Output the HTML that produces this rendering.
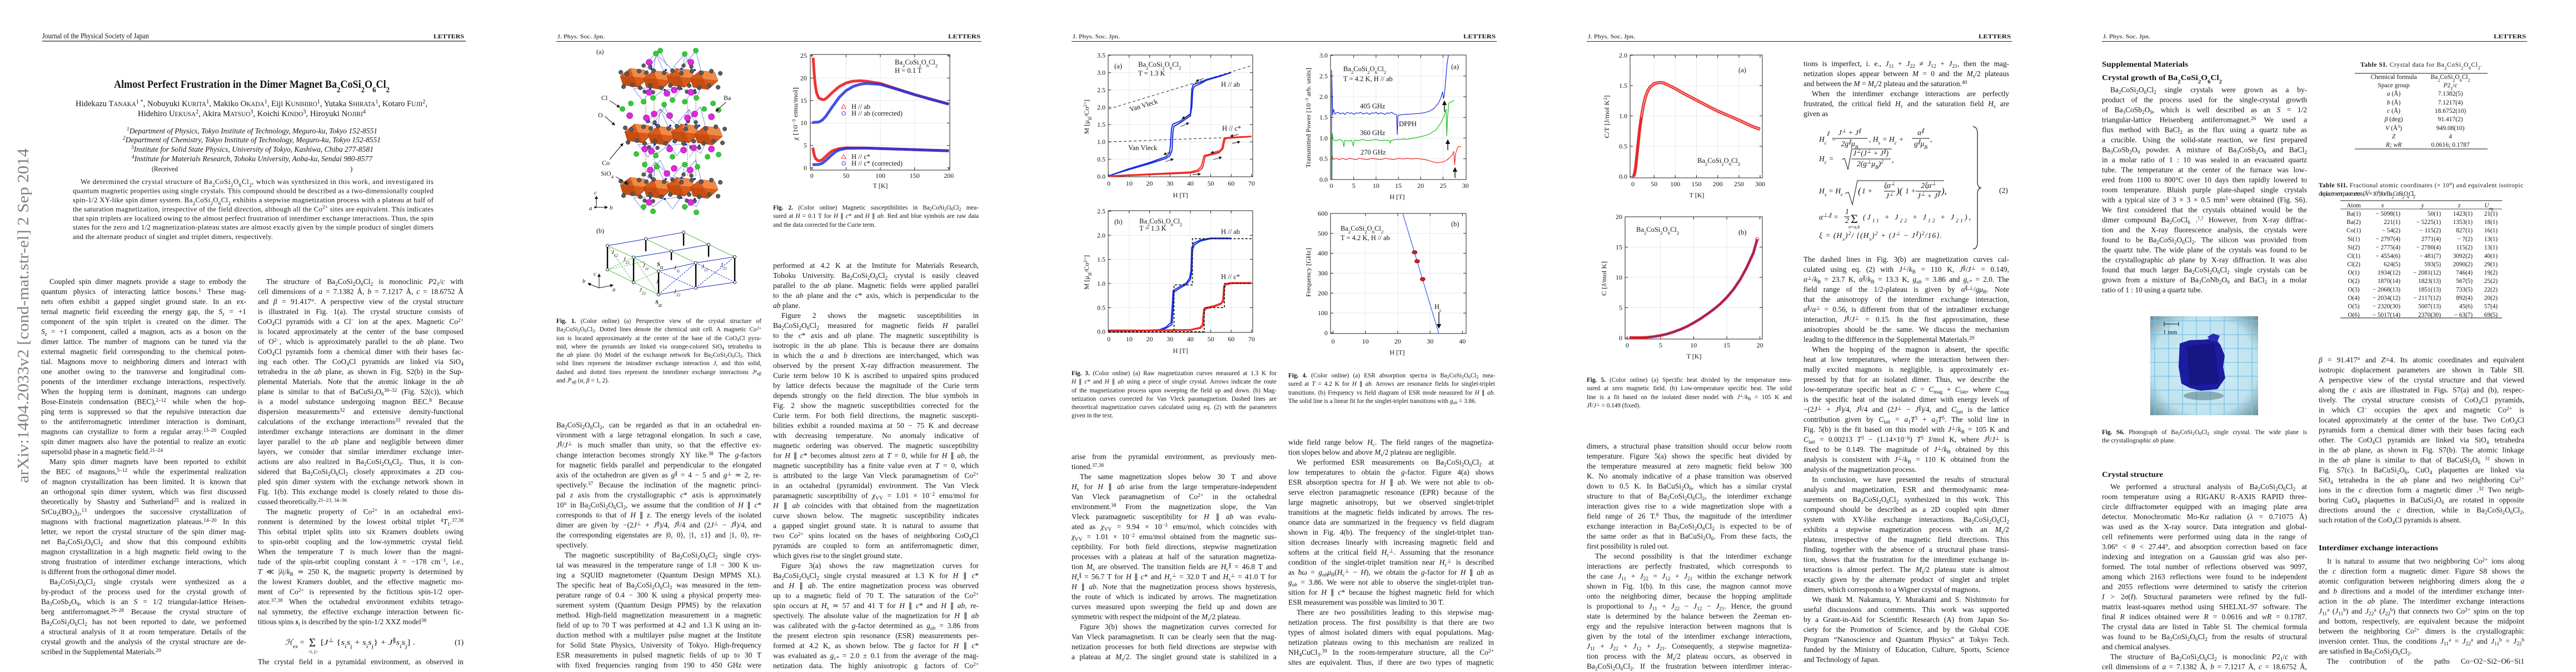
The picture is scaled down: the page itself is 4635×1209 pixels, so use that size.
<!DOCTYPE html>
<html><head><meta charset="utf-8"><style>
html,body{margin:0;padding:0}
body{width:4635px;height:1200px;position:relative;overflow:hidden;background:#fff;font-family:"Liberation Serif",serif;color:#141414}
.c{position:absolute;font-size:13.4px;line-height:18px}
.c div{height:18px;overflow:hidden;text-align:justify;text-align-last:justify;white-space:normal}
.c div.e{text-align-last:left}
.c div.i{text-indent:15px}
.cap{position:absolute;font-size:11.2px;line-height:15.3px}
.cap div{height:15.3px;overflow:hidden;text-align:justify;text-align-last:justify}
.cap div.e{text-align-last:left}
sub,sup{font-size:70%;line-height:0;position:relative;vertical-align:baseline}
sup{top:-0.42em}
sub{top:0.28em}
svg.main{position:absolute;left:0;top:0}
svg text{font-family:"Liberation Serif",serif;fill:#141414}
.s{baseline-shift:sub;font-size:70%}
.p{baseline-shift:super;font-size:70%}
.tk{font-size:12px}
.ax{fill:none;stroke:#222;stroke-width:1}
.gr{fill:none;stroke:#e0e0f0;stroke-width:.8}
.it{font-style:italic}
</style></head><body>
<svg class="main" width="4635" height="1200" viewBox="0 0 4635 1200">
<defs>
<marker id="ah" markerWidth="6" markerHeight="6" refX="5" refY="3" orient="auto"><path d="M0,0 L6,3 L0,6 z" fill="#111"/></marker>
<g id="pr"><polygon points="0,14 18,0 44,3 50,18 32,34 5,30" fill="#d85a1c" stroke="#8a3208" stroke-width=".6"/><polygon points="18,0 44,3 50,18 24,15" fill="#f08a44"/><polygon points="0,14 24,15 32,34 5,30" fill="#c04a10" opacity=".8"/></g>
<g id="ly">
<use href="#pr" x="1116" y="123"/><use href="#pr" x="1158" y="127"/><use href="#pr" x="1200" y="123"/><use href="#pr" x="1242" y="127"/>
<path d="M1180 96L1158 118L1176 128ZM1180 96L1195 130M1180 96L1210 126M1188 92L1163 130M1188 92L1200 118M1232 97L1212 120L1228 130ZM1232 97L1245 128M1252 92L1262 130M1252 92L1226 122M1158 183L1140 160L1170 158ZM1175 176L1196 160M1175 176L1152 156M1210 180L1196 162L1226 158ZM1232 183L1250 160M1253 176L1262 156M1253 176L1230 160" stroke="#3040c8" stroke-width=".6" fill="none"/>
<g fill="#5a5a5a" stroke="#222" stroke-width=".5">
<circle cx="1117" cy="130" r="3.8"/><circle cx="1128" cy="133" r="3.8"/><circle cx="1150" cy="128" r="3.8"/><circle cx="1163" cy="131" r="3.8"/><circle cx="1176" cy="127" r="3.8"/><circle cx="1195" cy="131" r="3.8"/><circle cx="1210" cy="127" r="3.8"/><circle cx="1226" cy="132" r="3.8"/><circle cx="1245" cy="128" r="3.8"/><circle cx="1262" cy="131" r="3.8"/><circle cx="1280" cy="128" r="3.8"/><circle cx="1296" cy="132" r="3.8"/>
<circle cx="1122" cy="156" r="3.8"/><circle cx="1138" cy="153" r="3.8"/><circle cx="1152" cy="158" r="3.8"/><circle cx="1170" cy="154" r="3.8"/><circle cx="1190" cy="158" r="3.8"/><circle cx="1206" cy="154" r="3.8"/><circle cx="1222" cy="158" r="3.8"/><circle cx="1240" cy="154" r="3.8"/><circle cx="1258" cy="158" r="3.8"/><circle cx="1276" cy="154" r="3.8"/><circle cx="1292" cy="157" r="3.8"/>
<circle cx="1158" cy="118" r="3.5"/><circle cx="1170" cy="120" r="3.5"/><circle cx="1230" cy="118" r="3.5"/><circle cx="1244" cy="120" r="3.5"/><circle cx="1160" cy="165" r="3.5"/><circle cx="1175" cy="166" r="3.5"/><circle cx="1236" cy="165" r="3.5"/><circle cx="1250" cy="166" r="3.5"/>
</g>
<g fill="#2030c0"><circle cx="1172" cy="124" r="2"/><circle cx="1198" cy="126" r="2"/><circle cx="1226" cy="124" r="2"/><circle cx="1250" cy="126" r="2"/><circle cx="1170" cy="160" r="2"/><circle cx="1196" cy="162" r="2"/><circle cx="1226" cy="160" r="2"/><circle cx="1250" cy="162" r="2"/></g>
</g>
</defs>

<!-- arXiv sidebar -->
<text transform="translate(51,869) rotate(-90)" font-size="28" textLength="602" lengthAdjust="spacingAndGlyphs" style="fill:#808080">arXiv:1404.2033v2  [cond-mat.str-el]  2 Sep 2014</text>

<!-- Headers -->
<text x="76" y="69" font-size="14" textLength="192" lengthAdjust="spacingAndGlyphs">Journal of the Physical Society of Japan</text>
<text x="780" y="69" font-size="11" font-weight="bold" textLength="55" lengthAdjust="spacingAndGlyphs">LETTERS</text>
<line x1="76" y1="74" x2="838" y2="74" stroke="#222" stroke-width="1.2"/>
<text x="1003" y="69" font-size="11" textLength="85" lengthAdjust="spacingAndGlyphs">J. Phys. Soc. Jpn.</text>
<text x="1706" y="69" font-size="11" font-weight="bold" textLength="58" lengthAdjust="spacingAndGlyphs">LETTERS</text>
<line x1="1001" y1="74.5" x2="1766" y2="74.5" stroke="#222" stroke-width="1"/>
<text x="1930" y="69" font-size="11" textLength="85" lengthAdjust="spacingAndGlyphs">J. Phys. Soc. Jpn.</text>
<text x="2633" y="69" font-size="11" font-weight="bold" textLength="58" lengthAdjust="spacingAndGlyphs">LETTERS</text>
<line x1="1928" y1="74.5" x2="2693" y2="74.5" stroke="#222" stroke-width="1"/>
<text x="2857" y="69" font-size="11" textLength="85" lengthAdjust="spacingAndGlyphs">J. Phys. Soc. Jpn.</text>
<text x="3560" y="69" font-size="11" font-weight="bold" textLength="58" lengthAdjust="spacingAndGlyphs">LETTERS</text>
<line x1="2855" y1="74.5" x2="3620" y2="74.5" stroke="#222" stroke-width="1"/>
<text x="3784" y="69" font-size="11" textLength="85" lengthAdjust="spacingAndGlyphs">J. Phys. Soc. Jpn.</text>
<text x="4487" y="69" font-size="11" font-weight="bold" textLength="58" lengthAdjust="spacingAndGlyphs">LETTERS</text>
<line x1="3782" y1="74.5" x2="4547" y2="74.5" stroke="#222" stroke-width="1"/>

<!-- Page 1 title block -->
<text x="205" y="158" font-size="19.5" font-weight="bold" textLength="496" lengthAdjust="spacingAndGlyphs">Almost Perfect Frustration in the Dimer Magnet Ba<tspan class="s">2</tspan>CoSi<tspan class="s">2</tspan>O<tspan class="s">6</tspan>Cl<tspan class="s">2</tspan></text>
<text x="136" y="191" font-size="15" textLength="633" lengthAdjust="spacingAndGlyphs">Hidekazu T<tspan font-size="11.5">ANAKA</tspan><tspan class="p">1 *</tspan>, Nobuyuki K<tspan font-size="11.5">URITA</tspan><tspan class="p">1</tspan>, Makiko O<tspan font-size="11.5">KADA</tspan><tspan class="p">1</tspan>, Eiji K<tspan font-size="11.5">UNIHIRO</tspan><tspan class="p">1</tspan>, Yutaka S<tspan font-size="11.5">HIRATA</tspan><tspan class="p">1</tspan>, Kotaro F<tspan font-size="11.5">UJII</tspan><tspan class="p">2</tspan>,</text>
<text x="248" y="209" font-size="15" textLength="410" lengthAdjust="spacingAndGlyphs">Hidehiro U<tspan font-size="11.5">EKUSA</tspan><tspan class="p">2</tspan>, Akira M<tspan font-size="11.5">ATSUO</tspan><tspan class="p">3</tspan>, Koichi K<tspan font-size="11.5">INDO</tspan><tspan class="p">3</tspan>, Hiroyuki N<tspan font-size="11.5">OJIRI</tspan><tspan class="p">4</tspan></text>
<g font-style="italic" font-size="13.5">
<text x="228" y="240" textLength="451" lengthAdjust="spacingAndGlyphs"><tspan class="p">1</tspan>Department of Physics, Tokyo Institute of Technology, Meguro-ku, Tokyo 152-8551</text>
<text x="221" y="256" textLength="464" lengthAdjust="spacingAndGlyphs"><tspan class="p">2</tspan>Department of Chemistry, Tokyo Institute of Technology, Meguro-ku, Tokyo 152-8551</text>
<text x="236" y="273" textLength="436" lengthAdjust="spacingAndGlyphs"><tspan class="p">3</tspan>Institute for Solid State Physics, University of Tokyo, Kashiwa, Chiba 277-8581</text>
<text x="237" y="290" textLength="433" lengthAdjust="spacingAndGlyphs"><tspan class="p">4</tspan>Institute for Materials Research, Tohoku University, Aoba-ku, Sendai 980-8577</text>
</g>
<text x="273" y="308" font-size="13" textLength="47" lengthAdjust="spacingAndGlyphs">(Received</text>
<text x="630" y="308" font-size="13">)</text>
<g font-size="12.8">
<text x="145" y="331" textLength="635">We determined the crystal structure of Ba<tspan class="s">2</tspan>CoSi<tspan class="s">2</tspan>O<tspan class="s">6</tspan>Cl<tspan class="s">2</tspan>, which was synthesized in this work, and investigated its</text>
<text x="131" y="347.5" textLength="649">quantum magnetic properties using single crystals. This compound should be described as a two-dimensionally coupled</text>
<text x="131" y="364" textLength="649">spin-1/2 XY-like spin dimer system. Ba<tspan class="s">2</tspan>CoSi<tspan class="s">2</tspan>O<tspan class="s">6</tspan>Cl<tspan class="s">2</tspan> exhibits a stepwise magnetization process with a plateau at half of</text>
<text x="131" y="380.5" textLength="649">the saturation magnetization, irrespective of the field direction, although all the Co<tspan class="p">2+</tspan> sites are equivalent. This indicates</text>
<text x="131" y="397" textLength="649">that spin triplets are localized owing to the almost perfect frustration of interdimer exchange interactions. Thus, the spin</text>
<text x="131" y="413" textLength="649">states for the zero and 1/2 magnetization-plateau states are almost exactly given by the simple product of singlet dimers</text>
<text x="131" y="430" textLength="360">and the alternate product of singlet and triplet dimers, respectively.</text>
</g>
<!-- eq (1) -->
<text x="513" y="1160" font-size="14"><tspan font-style="italic">ℋ</tspan><tspan class="s">ex</tspan> =</text>
<text x="556" y="1163" font-size="21">Σ</text>
<text x="554" y="1175" font-size="8.5">&lt;i, j&gt;</text>
<text x="577" y="1160" font-size="14" textLength="170" lengthAdjust="spacingAndGlyphs">[<tspan font-style="italic">J</tspan><tspan class="p">⊥</tspan> {<tspan font-style="italic">s</tspan><tspan class="s">i</tspan><tspan font-style="italic">s</tspan><tspan class="s">j</tspan> + <tspan font-style="italic">s</tspan><tspan class="s">i</tspan><tspan font-style="italic">s</tspan><tspan class="s">j</tspan>} + <tspan font-style="italic">J</tspan><tspan class="p">∥</tspan><tspan font-style="italic">s</tspan><tspan class="s">i</tspan><tspan font-style="italic">s</tspan><tspan class="s">j</tspan>] .</text>
<text x="818" y="1160" font-size="14">(1)</text>

<!-- Fig 1 -->
<text x="1073" y="97" font-size="12">(a)</text>
<line x1="1162" y1="178" x2="1162" y2="318" stroke="#444" stroke-dasharray="1.5 2"/>
<line x1="1177" y1="178" x2="1177" y2="318" stroke="#444" stroke-dasharray="1.5 2"/>
<line x1="1237" y1="178" x2="1237" y2="318" stroke="#444" stroke-dasharray="1.5 2"/>
<line x1="1252" y1="178" x2="1252" y2="318" stroke="#444" stroke-dasharray="1.5 2"/>
<use href="#ly"/>
<use href="#ly" x="8" y="100"/>
<use href="#ly" y="196"/>
<g fill="#2bd12b" stroke="#107010" stroke-width=".6">
<circle cx="1180" cy="96" r="4.5"/><circle cx="1188" cy="91" r="4.5"/><circle cx="1232" cy="97" r="4.5"/><circle cx="1252" cy="91" r="4.5"/><circle cx="1158" cy="183" r="4.5"/><circle cx="1175" cy="176" r="4.5"/><circle cx="1210" cy="180" r="4.5"/><circle cx="1232" cy="183" r="4.5"/><circle cx="1253" cy="176" r="4.5"/>
<circle cx="1120" cy="196" r="4.5"/><circle cx="1135" cy="186" r="4.5"/><circle cx="1195" cy="188" r="4.5"/><circle cx="1267" cy="196" r="4.5"/><circle cx="1283" cy="186" r="4.5"/><circle cx="1293" cy="198" r="4.5"/>
<circle cx="1145" cy="277" r="4.5"/><circle cx="1180" cy="280" r="4.5"/><circle cx="1210" cy="282" r="4.5"/><circle cx="1273" cy="282" r="4.5"/><circle cx="1293" cy="278" r="4.5"/>
<circle cx="1160" cy="296" r="4.5"/><circle cx="1182" cy="300" r="4.5"/><circle cx="1232" cy="296" r="4.5"/><circle cx="1255" cy="300" r="4.5"/><circle cx="1158" cy="372" r="4.5"/><circle cx="1175" cy="380" r="4.5"/><circle cx="1232" cy="372" r="4.5"/><circle cx="1253" cy="382" r="4.5"/>
</g>
<g fill="#e028e0" stroke="#801080" stroke-width=".6">
<circle cx="1168" cy="112" r="5.5"/><circle cx="1243" cy="112" r="5.5"/><circle cx="1168" cy="166" r="5.5"/><circle cx="1200" cy="168" r="5.5"/><circle cx="1213" cy="162" r="5.5"/><circle cx="1243" cy="166" r="5.5"/>
<circle cx="1133" cy="208" r="5.5"/><circle cx="1163" cy="212" r="5.5"/><circle cx="1177" cy="205" r="5.5"/><circle cx="1205" cy="208" r="5.5"/><circle cx="1237" cy="212" r="5.5"/><circle cx="1250" cy="205" r="5.5"/><circle cx="1280" cy="210" r="5.5"/>
<circle cx="1160" cy="268" r="5.5"/><circle cx="1172" cy="272" r="5.5"/><circle cx="1205" cy="268" r="5.5"/><circle cx="1230" cy="270" r="5.5"/><circle cx="1248" cy="266" r="5.5"/><circle cx="1280" cy="268" r="5.5"/>
<circle cx="1170" cy="306" r="5.5"/><circle cx="1242" cy="306" r="5.5"/><circle cx="1200" cy="312" r="5.5"/><circle cx="1213" cy="303" r="5.5"/><circle cx="1168" cy="364" r="5.5"/><circle cx="1243" cy="364" r="5.5"/>
</g>
<g font-size="12">
<text x="1082" y="180">Cl</text><text x="1076" y="211">O</text><text x="1083" y="297">Co</text><text x="1081" y="316">SiO<tspan class="s">4</tspan></text><text x="1302" y="180">Ba</text>
</g>
<g stroke="#111" stroke-width="1" marker-end="url(#ah)">
<line x1="1097" y1="181" x2="1115" y2="193"/><line x1="1088" y1="209" x2="1106" y2="225"/><line x1="1097" y1="287" x2="1121" y2="258"/><line x1="1108" y1="318" x2="1129" y2="331"/><line x1="1306" y1="184" x2="1288" y2="200"/>
<line x1="1073" y1="373" x2="1073" y2="353"/><line x1="1073" y1="373" x2="1093" y2="373"/>
</g>
<circle cx="1071" cy="373" r="1.8" fill="#111"/>
<g font-size="11" font-style="italic"><text x="1069" y="350">c</text><text x="1060" y="378">a</text><text x="1097" y="377">b</text></g>
<text x="1073" y="419" font-size="12">(b)</text>
<g fill="none" stroke-width="1.1">
<path d="M1093 442L1162 430L1230 418M1140 463L1208 452L1275 440M1185 488L1252 473L1322 462M1185 530L1252 518L1322 508" stroke="#2a32c8"/>
<path d="M1093 442L1140 463L1185 488M1230 418L1275 440L1322 462M1162 430L1208 452L1252 473M1093 485L1140 508L1185 530" stroke="#5fbf5f"/>
<path d="M1093 485L1140 463M1093 442L1140 508M1140 508L1185 488M1140 463L1185 530M1093 485L1162 470" stroke="#5fbf5f" stroke-dasharray="3 2"/>
<path d="M1185 488L1252 518M1185 530L1252 473M1252 473L1322 508M1252 518L1322 462" stroke="#2a32c8" stroke-dasharray="3 2"/>
</g>
<path d="M1093 442V485M1140 463V508M1185 488V530M1252 473V518M1322 462V508M1162 430V452M1230 418V442M1275 440V462M1208 452V468" stroke="#000" stroke-width="2.4"/>
<g fill="#fff" stroke="#000" stroke-width=".8">
<circle cx="1093" cy="442" r="2.6"/><circle cx="1093" cy="485" r="2.6"/><circle cx="1140" cy="463" r="2.6"/><circle cx="1140" cy="508" r="2.6"/><circle cx="1185" cy="488" r="2.6"/><circle cx="1185" cy="530" r="2.6"/><circle cx="1252" cy="473" r="2.6"/><circle cx="1252" cy="518" r="2.6"/><circle cx="1322" cy="462" r="2.6"/><circle cx="1322" cy="508" r="2.6"/><circle cx="1162" cy="430" r="2.6"/><circle cx="1230" cy="418" r="2.6"/><circle cx="1275" cy="440" r="2.6"/><circle cx="1208" cy="452" r="2.6"/>
</g>
<g font-size="10.5" font-style="italic">
<text x="1100" y="457">J<tspan class="s">12</tspan></text><text x="1121" y="470">J<tspan class="s">21</tspan></text><text x="1156" y="481">J<tspan class="s">11</tspan></text><text x="1212" y="485">J<tspan class="s">11</tspan></text><text x="1262" y="483">J<tspan class="s">12</tspan></text><text x="1296" y="480">J<tspan class="s">21</tspan></text><text x="1180" y="510">J</text><text x="1150" y="525">J<tspan class="s">22</tspan></text><text x="1212" y="528">J<tspan class="s">22</tspan></text>
<text x="1182" y="479" font-weight="bold">S<tspan class="s">i1</tspan></text><text x="1179" y="547" font-weight="bold">S<tspan class="s">i2</tspan></text>
<text x="1068" y="496">c</text><text x="1048" y="509">b</text><text x="1102" y="524">a</text>
</g>
<g stroke="#111" stroke-width="1" marker-end="url(#ah)"><line x1="1078" y1="518" x2="1078" y2="493"/><line x1="1078" y1="518" x2="1058" y2="510"/><line x1="1078" y1="518" x2="1103" y2="513"/></g>

<!-- Fig 2 -->
<path class="gr" d="M1458 261.6H1709M1458 221.2H1709M1458 180.8H1709M1458 140.4H1709M1522.4 98V306M1584 98V306M1645.7 98V306"/>
<rect x="1458" y="98" width="251" height="208" class="ax"/>
<path class="ax" d="M1458 302h5M1458 261.6h5M1458 221.2h5M1458 180.8h5M1458 140.4h5M1458 100h5M1709 302h-5M1709 261.6h-5M1709 221.2h-5M1709 180.8h-5M1709 140.4h-5M1709 100h-5M1460.7 306v-5M1522.4 306v-5M1584 306v-5M1645.7 306v-5M1707.3 306v-5M1460.7 98v5M1522.4 98v5M1584 98v5M1645.7 98v5M1707.3 98v5"/>
<polyline fill="none" stroke="#ee3535" stroke-width="5" stroke-linejoin="round" points="1463.2,104 1464.4,124.2 1465.6,140.4 1466.9,152.5 1469.3,167.1 1473,176 1479.2,179.2 1482.9,179.2 1487.8,176 1497.7,166.3 1510,155.8 1522.4,149.3 1534.7,146.1 1547,145.2 1559.3,146.1 1584,150.1 1608.7,158.2 1645.7,170.3 1676.5,179.2 1707.3,187.3"/>
<polyline fill="none" stroke="#ee3535" stroke-width="5" stroke-linejoin="round" points="1462.5,265.6 1463.8,272.9 1465.6,281 1468.1,285.8 1471.8,289.1 1475.5,289.1 1479.2,287.5 1485.4,281.8 1491.5,276.1 1497.7,271.3 1510,267.3 1522.4,266 1559.3,266.4 1584,267.3 1645.7,269.3 1707.3,271.3"/>
<polyline fill="none" stroke="#2233dd" stroke-opacity=".85" stroke-width="5" stroke-linejoin="round" points="1461.3,220.4 1473,219.6 1479.2,216.4 1485.4,209.9 1491.5,201 1497.7,192.1 1510,175.1 1522.4,163 1534.7,155.8 1547,151.7 1559.3,150.1 1584,151.7 1608.7,159 1645.7,170.3 1707.3,187.3"/>
<polyline fill="none" stroke="#2233dd" stroke-opacity=".85" stroke-width="5" stroke-linejoin="round" points="1461.9,296.3 1473,295.9 1479.2,293.9 1485.4,289.1 1491.5,283.4 1497.7,277.8 1503.9,272.9 1510,269.7 1522.4,266.9 1559.3,266.4 1584,267.3 1645.7,269.3 1707.3,271.3"/>
<g class="tk" text-anchor="end"><text x="1452" y="306">0</text><text x="1452" y="265.6">5</text><text x="1452" y="225.2">10</text><text x="1452" y="184.8">15</text><text x="1452" y="144.4">20</text><text x="1452" y="104">25</text></g>
<g class="tk" text-anchor="middle"><text x="1460.7" y="320">0</text><text x="1522.4" y="320">50</text><text x="1584" y="320">100</text><text x="1645.7" y="320">150</text><text x="1707.3" y="320">200</text><text x="1584" y="338">T [K]</text></g>
<text transform="translate(1435,205) rotate(-90)" text-anchor="middle" font-size="12" textLength="96" lengthAdjust="spacingAndGlyphs">χ [10<tspan class="p">−3</tspan> emu/mol]</text>
<g font-size="12.5"><text x="1610" y="116">Ba<tspan class="s">2</tspan>CoSi<tspan class="s">2</tspan>O<tspan class="s">6</tspan>Cl<tspan class="s">2</tspan></text><text x="1610" y="131">H = 0.1 T</text>
<text x="1532" y="196">H // ab</text><text x="1532" y="208">H // ab (corrected)</text><text x="1532" y="286">H // c*</text><text x="1532" y="298">H // c* (corrected)</text></g>
<g fill="none" stroke-width="1"><polygon points="1514,195 1518,188 1522,195" stroke="#e33"/><circle cx="1518" cy="204" r="3.3" stroke="#33d"/><polygon points="1514,285 1518,278 1522,285" stroke="#e33"/><circle cx="1518" cy="294" r="3.3" stroke="#33d"/></g>

<!-- Fig 3 (a) -->
<path class="gr" d="M1994 286.4H2254M1994 255.2H2254M1994 224.1H2254M1994 192.9H2254M1994 161.8H2254M1994 130.7H2254M2031.7 99V318M2068.4 99V318M2105.1 99V318M2141.8 99V318M2178.5 99V318M2215.2 99V318"/>
<rect x="1994" y="99" width="260" height="219" class="ax"/>
<path class="ax" d="M1994 317.5h5M1994 286.4h5M1994 255.2h5M1994 224.1h5M1994 192.9h5M1994 161.8h5M1994 130.7h5M1994 99.5h5M2254 286.4h-5M2254 255.2h-5M2254 224.1h-5M2254 192.9h-5M2254 161.8h-5M2254 130.7h-5M1995 318v-5M2031.7 318v-5M2068.4 318v-5M2105.1 318v-5M2141.8 318v-5M2178.5 318v-5M2215.2 318v-5M2251.9 318v-5M2031.7 99v5M2068.4 99v5M2105.1 99v5M2141.8 99v5M2178.5 99v5M2215.2 99v5"/>
<path d="M1995 196L2252 118.1M1995 255.2L2252 245.9" stroke="#222" stroke-width="1" stroke-dasharray="5 4" fill="none"/>
<polyline fill="none" stroke="#1a2be0" stroke-width="2" points="1995,316.3 2031.7,305 2068.4,294.5 2097.8,285.1 2105.1,280.1 2108.8,270.8 2110.6,236.5 2112.4,227.2 2123.5,221 2141.8,208.5 2144.4,192.9 2146.2,161.8 2149.1,155.5 2160.2,150.5 2171.2,144.3 2196.9,136.8 2215.2,130.6"/>
<polyline fill="none" stroke="#1a2be0" stroke-width="2" points="1995,316.3 2031.7,303.5 2068.4,292.5 2097.8,282 2104,276 2106,262 2107.8,232 2110,223.5 2123.5,218 2141.8,205 2143,190 2144.5,160 2147,152 2160.2,148 2171.2,143 2196.9,136 2215.2,130.6"/>
<polyline fill="none" stroke="#ee2a22" stroke-width="2" points="1995,317.5 2068.4,314.4 2141.8,311.3 2156.5,308.2 2163.8,301.9 2166.8,289.5 2168.6,281.4 2178.5,278.9 2193.2,275.1 2200.5,267.7 2202.4,258.3 2204.2,250.8 2207.9,249 2233.6,247.1 2252,245.9"/>
<polyline fill="none" stroke="#ee2a22" stroke-width="2" points="1995,316.5 2068.4,313 2141.8,309.5 2155,306 2161.5,299 2164.5,287.5 2166.6,280 2178.5,276.9 2193.2,273 2199,265.7 2200.6,256.3 2202.4,249 2207.9,247.5 2233.6,246 2252,245.2"/>
<g stroke="#111" stroke-width=".9" marker-end="url(#ah)">
<line x1="2166" y1="141" x2="2152" y2="146"/><line x1="2124" y1="228" x2="2139" y2="221"/><line x1="2141" y1="207" x2="2127" y2="213"/><line x1="2106" y1="273" x2="2094" y2="278"/><line x1="2097" y1="291" x2="2111" y2="286"/><line x1="2193" y1="271" x2="2179" y2="275"/><line x1="2183" y1="287" x2="2198" y2="283"/><line x1="2228" y1="242" x2="2214" y2="245"/><line x1="2217" y1="258" x2="2231" y2="255"/><line x1="2146" y1="314" x2="2160" y2="313"/>
</g>
<g class="tk" text-anchor="end"><text x="1989" y="321.5">0.0</text><text x="1989" y="290.4">0.5</text><text x="1989" y="259.2">1.0</text><text x="1989" y="228.1">1.5</text><text x="1989" y="196.9">2.0</text><text x="1989" y="165.8">2.5</text><text x="1989" y="134.7">3.0</text><text x="1989" y="103.5">3.5</text></g>
<g class="tk" text-anchor="middle"><text x="1995" y="334">0</text><text x="2031.7" y="334">10</text><text x="2068.4" y="334">20</text><text x="2105.1" y="334">30</text><text x="2141.8" y="334">40</text><text x="2178.5" y="334">50</text><text x="2215.2" y="334">60</text><text x="2251.9" y="334">70</text><text x="2124" y="355">H [T]</text></g>
<text transform="translate(1959,210) rotate(-90)" text-anchor="middle" font-size="12" textLength="62" lengthAdjust="spacingAndGlyphs">M [μ<tspan class="s">B</tspan>/Co<tspan class="p">2+</tspan>]</text>
<g font-size="12.5"><text x="2005" y="123">(a)</text><text x="2048" y="120">Ba<tspan class="s">2</tspan>CoSi<tspan class="s">2</tspan>O<tspan class="s">6</tspan>Cl<tspan class="s">2</tspan></text><text x="2048" y="136">T = 1.3 K</text><text x="2197" y="156">H // ab</text><text x="2199" y="235">H // c*</text>
<text transform="translate(2034,201) rotate(-17)">Van Vleck</text><text x="2030" y="270">Van Vleck</text></g>

<!-- Fig 3 (b) -->
<path class="gr" d="M1994 553.4H2254M1994 510H2254M1994 466.6H2254M1994 423.3H2254M2031.7 379V598M2068.4 379V598M2105.1 379V598M2141.8 379V598M2178.5 379V598M2215.2 379V598"/>
<rect x="1994" y="379" width="260" height="219" class="ax"/>
<path class="ax" d="M1994 596.7h5M1994 553.4h5M1994 510h5M1994 466.6h5M1994 423.3h5M1994 380h5M2254 553.4h-5M2254 510h-5M2254 466.6h-5M2254 423.3h-5M1995 598v-5M2031.7 598v-5M2068.4 598v-5M2105.1 598v-5M2141.8 598v-5M2178.5 598v-5M2215.2 598v-5M2251.9 598v-5M2031.7 379v5M2068.4 379v5M2105.1 379v5M2141.8 379v5M2178.5 379v5M2215.2 379v5"/>
<polyline fill="none" stroke="#1a2be0" stroke-width="2" points="1995,595 2068.4,595 2086.8,594.1 2097.8,590.6 2105.1,586.3 2108.8,583.7 2111,553.4 2112.4,525.6 2119.8,520.4 2134.5,511.7 2141.8,503.1 2144.4,488.3 2145.8,449.3 2149.1,440.6 2160.2,433.7 2178.5,429.4 2215.2,429.4"/>
<polyline fill="none" stroke="#1a2be0" stroke-width="2" points="1995,594 2068.4,594 2086.8,593 2097.8,588.6 2103.5,583.3 2107,580.7 2109.2,550.4 2110.8,522.6 2119.8,517.4 2134.5,509 2140.5,500.1 2143,485.3 2144.2,446.3 2147.5,437.6 2160.2,431.7 2178.5,428.4 2215.2,428.4"/>
<polyline fill="none" stroke="#ee2a22" stroke-width="2" points="1995,595.8 2141.8,594.1 2160.2,590.6 2164.9,586.3 2167.1,560.3 2169.3,555.9 2185.8,551.6 2196.9,547.3 2201.6,542.1 2203.5,516.9 2206,512.6 2215.2,510 2252,510"/>
<polyline fill="none" stroke="#ee2a22" stroke-width="2" points="1995,594.8 2141.8,593 2158.6,589.2 2163.3,584.3 2165.5,558.3 2167.7,553.9 2185.8,549.6 2196.9,545.3 2200,540.1 2201.9,514.9 2204.4,510.6 2215.2,508.5 2252,508.5"/>
<path d="M1995 596.7H2112.4V512.6H2145.5V429.4H2252M1995 596.7H2166.8V553.4H2203.1V510H2252" stroke="#111" stroke-width="1.6" stroke-dasharray="4 3" fill="none"/>
<g class="tk" text-anchor="end"><text x="1989" y="600.7">0.0</text><text x="1989" y="557.4">0.5</text><text x="1989" y="514">1.0</text><text x="1989" y="470.6">1.5</text><text x="1989" y="427.3">2.0</text><text x="1989" y="384">2.5</text></g>
<g class="tk" text-anchor="middle"><text x="1995" y="614">0</text><text x="2031.7" y="614">10</text><text x="2068.4" y="614">20</text><text x="2105.1" y="614">30</text><text x="2141.8" y="614">40</text><text x="2178.5" y="614">50</text><text x="2215.2" y="614">60</text><text x="2251.9" y="614">70</text><text x="2124" y="635">H [T]</text></g>
<text transform="translate(1959,490) rotate(-90)" text-anchor="middle" font-size="12" textLength="62" lengthAdjust="spacingAndGlyphs">M [μ<tspan class="s">B</tspan>/Co<tspan class="p">2+</tspan>]</text>
<g font-size="12.5"><text x="2005" y="403">(b)</text><text x="2050" y="402">Ba<tspan class="s">2</tspan>CoSi<tspan class="s">2</tspan>O<tspan class="s">6</tspan>Cl<tspan class="s">2</tspan></text><text x="2050" y="415">T = 1.3 K</text><text x="2197" y="421">H // ab</text><text x="2197" y="502">H // c*</text></g>

<!-- Fig 4 (a) -->
<path class="gr" d="M2394 285.6H2638M2394 248.4H2638M2394 211.2H2638M2394 174H2638M2394 136.8H2638M2435.7 99V323M2475.9 99V323M2516.1 99V323M2556.3 99V323M2596.5 99V323"/>
<rect x="2394" y="99" width="244" height="224" class="ax"/>
<path class="ax" d="M2394 322.8h5M2394 285.6h5M2394 248.4h5M2394 211.2h5M2394 174h5M2394 136.8h5M2394 99.6h5M2638 285.6h-5M2638 248.4h-5M2638 211.2h-5M2638 174h-5M2638 136.8h-5M2435.7 323v-5M2475.9 323v-5M2516.1 323v-5M2556.3 323v-5M2596.5 323v-5M2435.7 99v5M2475.9 99v5M2516.1 99v5M2556.3 99v5M2596.5 99v5"/>
<polyline fill="none" stroke="#ee2a22" stroke-width="1.2" points="2396.5,322 2396.5,278 2399,287 2404,285 2410,287 2416,285 2422,287 2428,285 2434,286 2440,287 2446,285 2452,286 2460,287 2468,285 2476,286 2484,287 2492,285 2500,286 2508,287 2516,285 2524,286 2532,285 2540,286 2548,285 2556,286 2564,287 2572.4,289.3 2584.4,293 2596.5,291.6 2604.5,287.1 2612.6,279.6 2615.8,272.2 2617.4,296.8 2619,276.7 2622.2,267 2624.6,263.3 2628.7,264"/>
<polyline fill="none" stroke="#16c016" stroke-width="1.2" points="2396.5,322 2397,240 2399,252 2404,253 2410,251 2416,253 2418,264 2420,252 2426,254 2432,252 2435,263 2437,252 2444,253 2452,251 2460,253 2468,252 2476,251 2484,253 2492,252 2500,253 2501.6,257 2503,253 2510,251 2518,251 2526,250 2532,250.6 2540,249 2556,246 2564,244 2572,241 2584,233.5 2592,222 2599,207.5 2602,196 2603.3,244.7 2604.5,211 2607,185 2612.6,183 2616.6,180"/>
<polyline fill="none" stroke="#1a2bd8" stroke-width="1.2" points="2396,322 2396,126 2397.9,207.5 2399.5,196.3 2401.9,205.2 2404,203 2408,202 2412,205 2416,203 2420,206 2424,202 2428,204 2432,203 2436,206 2440,203 2444,204 2448,202 2452,205 2456,204 2460,203 2464,206 2468,203 2472,204 2476,202 2480,205 2484,203 2488,204 2492,206 2496,203 2500,204 2504,202 2508,205 2512,206 2512.9,207.5 2514.1,242.4 2515.3,207.5 2524.1,206 2540.2,205.2 2556.3,203.8 2564.3,202.3 2572.4,200 2580.4,194.8 2588.5,185.2 2593.3,174 2595.7,165.1 2597.3,177.7 2598.9,170.3 2601.3,144.2 2603.7,114.5 2606.1,99.6"/>
<g stroke="#111" stroke-width="1.4" marker-end="url(#ah)"><line x1="2599" y1="201" x2="2599" y2="182"/><line x1="2605" y1="270" x2="2605" y2="252"/><line x1="2618" y1="320" x2="2618" y2="302"/></g>
<g class="tk" text-anchor="end"><text x="2389" y="326.8">0.0</text><text x="2389" y="289.6">0.5</text><text x="2389" y="252.4">1.0</text><text x="2389" y="215.2">1.5</text><text x="2389" y="178">2.0</text><text x="2389" y="140.8">2.5</text><text x="2389" y="103.6">3.0</text></g>
<g class="tk" text-anchor="middle"><text x="2395.5" y="338">0</text><text x="2435.7" y="338">5</text><text x="2475.9" y="338">10</text><text x="2516.1" y="338">15</text><text x="2556.3" y="338">20</text><text x="2596.5" y="338">25</text><text x="2636.7" y="338">30</text><text x="2514" y="358">H [T]</text></g>
<text transform="translate(2358,212) rotate(-90)" text-anchor="middle" font-size="12" textLength="180" lengthAdjust="spacingAndGlyphs">Transmitted Power [10<tspan class="p">−3</tspan> arb. units]</text>
<g font-size="12.5"><text x="2417" y="128">Ba<tspan class="s">2</tspan>CoSi<tspan class="s">2</tspan>O<tspan class="s">6</tspan>Cl<tspan class="s">2</tspan></text><text x="2417" y="146">T = 4.2 K, H // ab</text><text x="2611" y="124">(a)</text>
<text x="2447" y="195">405 GHz</text><text x="2517" y="227">DPPH</text><text x="2447" y="243">360 GHz</text><text x="2448" y="278">270 GHz</text></g>

<!-- Fig 4 (b) -->
<path class="gr" d="M2394 563.2H2638M2394 527.3H2638M2394 491.5H2638M2394 455.7H2638M2394 419.9H2638M2456.8 384V600M2515 384V600M2573.2 384V600"/>
<rect x="2394" y="384" width="244" height="216" class="ax"/>
<path class="ax" d="M2394 599h5M2394 563.2h5M2394 527.3h5M2394 491.5h5M2394 455.7h5M2394 419.9h5M2394 384h5M2638 563.2h-5M2638 527.3h-5M2638 491.5h-5M2638 455.7h-5M2638 419.9h-5M2398.6 600v-5M2456.8 600v-5M2515 600v-5M2573.2 600v-5M2631.4 600v-5M2456.8 384v5M2515 384v5M2573.2 384v5M2631.4 384v5"/>
<line x1="2524" y1="384" x2="2588.5" y2="599" stroke="#3a6ae0" stroke-width="1.3"/>
<g fill="#d21a2a" stroke="#7a0a10" stroke-width=".7"><ellipse cx="2545.3" cy="453.9" rx="4.5" ry="3.3"/><ellipse cx="2549.9" cy="470" rx="4.5" ry="3.3"/><ellipse cx="2559.8" cy="502.3" rx="4.5" ry="3.3"/></g>
<line x1="2589" y1="561" x2="2589" y2="590" stroke="#111" stroke-width="1.4" marker-end="url(#ah)"/>
<g class="tk" text-anchor="end"><text x="2389" y="603">0</text><text x="2389" y="567.2">100</text><text x="2389" y="531.3">200</text><text x="2389" y="495.5">300</text><text x="2389" y="459.7">400</text><text x="2389" y="423.9">500</text><text x="2389" y="388">600</text></g>
<g class="tk" text-anchor="middle"><text x="2398.6" y="618">0</text><text x="2456.8" y="618">10</text><text x="2515" y="618">20</text><text x="2573.2" y="618">30</text><text x="2631.4" y="618">40</text><text x="2514" y="638">H [T]</text></g>
<text transform="translate(2358,490) rotate(-90)" text-anchor="middle" font-size="12" textLength="88" lengthAdjust="spacingAndGlyphs">Frequency [GHz]</text>
<g font-size="12.5"><text x="2412" y="415">Ba<tspan class="s">2</tspan>CoSi<tspan class="s">2</tspan>O<tspan class="s">6</tspan>Cl<tspan class="s">2</tspan></text><text x="2412" y="432">T = 4.2 K, H // ab</text><text x="2611" y="407">(b)</text><text x="2581" y="556">H<tspan class="s">c</tspan></text></g>

<!-- Fig 5 (a) -->
<path class="gr" d="M2933 263H3171M2933 208.5H3171M2933 154H3171M2976.2 99V320M3014.3 99V320M3052.5 99V320M3090.7 99V320M3128.9 99V320"/>
<rect x="2933" y="99" width="238" height="221" class="ax"/>
<path class="ax" d="M2933 317.5h5M2933 263h5M2933 208.5h5M2933 154h5M2933 99.5h5M3171 263h-5M3171 208.5h-5M3171 154h-5M2938 320v-5M2976.2 320v-5M3014.3 320v-5M3052.5 320v-5M3090.7 320v-5M3128.9 320v-5M3167 320v-5M2976.2 99v5M3014.3 99v5M3052.5 99v5M3090.7 99v5M3128.9 99v5M3167 99v5"/>
<polyline fill="none" stroke="#e82a2a" stroke-width="5.5" stroke-linejoin="round" points="2938.8,317.5 2940.3,315.3 2941.8,308.8 2943.3,299 2945.6,276.1 2947.9,254.3 2950.2,232.5 2953.3,210.7 2957.1,188.9 2960.9,173.6 2964.7,163.8 2968.5,157.3 2976.2,150.7 2983.8,148.6 2991.4,148.6 2999.1,151.8 3014.3,159.4 3029.6,168.2 3052.5,180.2 3075.4,192.2 3090.7,199.8 3113.6,209.6 3128.9,216.1 3151.8,227 3167,232.5"/>
<polyline fill="none" stroke="#fff" stroke-opacity=".6" stroke-width="1.6" points="2953.3,210.7 2957.1,188.9 2960.9,173.6 2964.7,163.8 2968.5,157.3 2976.2,150.7 2983.8,148.6 2991.4,148.6 2999.1,151.8 3014.3,159.4 3029.6,168.2 3052.5,180.2 3075.4,192.2 3090.7,199.8 3113.6,209.6 3128.9,216.1 3151.8,227 3167,232.5"/>
<g class="tk" text-anchor="end"><text x="2928" y="321.5">0.0</text><text x="2928" y="267">0.5</text><text x="2928" y="212.5">1.0</text><text x="2928" y="158">1.5</text><text x="2928" y="103.5">2.0</text></g>
<g class="tk" text-anchor="middle"><text x="2938" y="335">0</text><text x="2976.2" y="335">50</text><text x="3014.3" y="335">100</text><text x="3052.5" y="335">150</text><text x="3090.7" y="335">200</text><text x="3128.9" y="335">250</text><text x="3167" y="335">300</text><text x="3053" y="355">T [K]</text></g>
<text transform="translate(2895,210) rotate(-90)" text-anchor="middle" font-size="12" textLength="77" lengthAdjust="spacingAndGlyphs">C/T [J/mol K<tspan class="p">2</tspan>]</text>
<g font-size="12.5"><text x="3128" y="130">(a)</text><text x="3054" y="293">Ba<tspan class="s">2</tspan>CoSi<tspan class="s">2</tspan>O<tspan class="s">6</tspan>Cl<tspan class="s">2</tspan></text></g>

<!-- Fig 5 (b) -->
<path class="gr" d="M2924 553.5H3171M2924 499H3171M2924 444.5H3171M2987.7 390V610M3047.3 390V610M3107 390V610"/>
<rect x="2924" y="390" width="247" height="220" class="ax"/>
<path class="ax" d="M2924 608h5M2924 553.5h5M2924 499h5M2924 444.5h5M2924 390h5M3171 553.5h-5M3171 499h-5M3171 444.5h-5M2928 610v-5M2987.7 610v-5M3047.3 610v-5M3107 610v-5M3166.6 610v-5M2987.7 390v5M3047.3 390v5M3107 390v5M3166.6 390v5"/>
<polyline fill="none" stroke="#e82a2a" stroke-width="5" stroke-linejoin="round" points="2931.6,607.5 2951.9,607.5 2963.8,606.9 2975.7,605.6 2987.7,603.6 2999.6,600.9 3011.5,597.1 3023.4,592.7 3035.4,587.3 3047.3,580.8 3059.2,573.7 3071.2,565.5 3083.1,556.8 3095,547 3107,535 3118.9,520.8 3130.8,503.4 3142.7,481.6 3154.7,455.4 3161.8,430.3"/>
<polyline fill="none" stroke="#2030d0" stroke-width="1.3" points="2931.6,607.5 2951.9,607.5 2963.8,606.9 2975.7,605.6 2987.7,603.6 2999.6,600.9 3011.5,597.1 3023.4,592.7 3035.4,587.3 3047.3,580.8 3059.2,573.7 3071.2,565.5 3083.1,556.8 3095,547 3107,535 3118.9,520.8 3130.8,503.4 3142.7,481.6 3154.7,455.4 3161.8,430.3"/>
<circle cx="3161.8" cy="430.3" r="3" fill="none" stroke="#e82a2a"/>
<g class="tk" text-anchor="end"><text x="2919" y="612">0</text><text x="2919" y="557.5">5</text><text x="2919" y="503">10</text><text x="2919" y="448.5">15</text><text x="2919" y="394">20</text></g>
<g class="tk" text-anchor="middle"><text x="2928" y="625">0</text><text x="2987.7" y="625">5</text><text x="3047.3" y="625">10</text><text x="3107" y="625">15</text><text x="3166.6" y="625">20</text><text x="3048" y="645">T [K]</text></g>
<text transform="translate(2890,501) rotate(-90)" text-anchor="middle" font-size="12" textLength="62" lengthAdjust="spacingAndGlyphs">C [J/mol K]</text>
<g font-size="12.5"><text x="2944" y="417">Ba<tspan class="s">2</tspan>CoSi<tspan class="s">2</tspan>O<tspan class="s">6</tspan>Cl<tspan class="s">2</tspan></text><text x="3128" y="422">(b)</text></g>

<!-- Eq (2) page 4 -->
<g font-size="13.5" font-style="italic">
<text x="3273" y="255">H<tspan class="s">c</tspan><tspan font-size="9" dy="-12">∥</tspan><tspan dy="12"> =</tspan></text>
<text x="3328" y="243" text-anchor="middle">J<tspan class="p">⊥</tspan> + J<tspan class="p">∥</tspan></text>
<line x1="3298" y1="249" x2="3360" y2="249" stroke="#111"/>
<text x="3328" y="263" text-anchor="middle">2g<tspan class="p">∥</tspan>μ<tspan class="s">B</tspan></text>
<text x="3363" y="255">,   H<tspan class="s">s</tspan> = H<tspan class="s">c</tspan> +</text>
<text x="3456" y="243" text-anchor="middle">α<tspan class="p">∥</tspan></text>
<line x1="3440" y1="249" x2="3472" y2="249" stroke="#111"/>
<text x="3456" y="263" text-anchor="middle">g<tspan class="p">∥</tspan>μ<tspan class="s">B</tspan></text>
<text x="3473" y="255">,</text>
<text x="3273" y="290">H<tspan class="s">c</tspan> =</text>
<path d="M3314 287L3319 285L3325 305L3332 268H3404" stroke="#111" fill="none" stroke-width="1"/>
<text x="3334" y="280">J<tspan class="p">⊥</tspan>(J<tspan class="p">⊥</tspan> + J<tspan class="p">∥</tspan>)</text>
<line x1="3331" y1="286" x2="3402" y2="286" stroke="#111"/>
<text x="3341" y="299">2(g<tspan class="p">⊥</tspan>μ<tspan class="s">B</tspan>)<tspan class="p">2</tspan></text>
<text x="3404" y="292">,</text>
<text x="3273" y="348">H<tspan class="s">s</tspan> = H<tspan class="s">c</tspan></text>
<path d="M3320 348L3326 346L3333 368L3342 325H3498" stroke="#111" fill="none" stroke-width="1"/>
<text x="3343" y="349" font-size="17">(</text><text x="3350" y="348">1 +</text>
<text x="3400" y="338" text-anchor="middle">ξα<tspan class="p">⊥</tspan></text><line x1="3390" y1="344" x2="3410" y2="344" stroke="#111"/><text x="3400" y="357" text-anchor="middle">J<tspan class="p">⊥</tspan></text>
<text x="3412" y="349" font-size="17">)(</text><text x="3428" y="348">1 +</text>
<text x="3470" y="338" text-anchor="middle">2ξα<tspan class="p">⊥</tspan></text><line x1="3447" y1="344" x2="3493" y2="344" stroke="#111"/><text x="3470" y="357" text-anchor="middle">J<tspan class="p">⊥</tspan> + J<tspan class="p">∥</tspan></text>
<text x="3493" y="349" font-size="17">),</text>
<text x="3273" y="395">α<tspan class="p">⊥,∥</tspan> =</text>
<text x="3320" y="385">1</text><line x1="3318" y1="390" x2="3328" y2="390" stroke="#111"/><text x="3320" y="401">2</text>
<text x="3330" y="401" font-size="22" font-style="normal">Σ</text>
<text x="3326" y="411" font-size="8.5">σ=a,b</text>
<text x="3352" y="395" textLength="194" lengthAdjust="spacing">(J<tspan class="s">11</tspan> + J<tspan class="s">22</tspan> + J<tspan class="s">12</tspan> + J<tspan class="s">21</tspan>),</text>
<text x="3273" y="428" textLength="221" lengthAdjust="spacing">ξ = (H<tspan class="s">s</tspan>)<tspan class="p">2</tspan>/ {(H<tspan class="s">s</tspan>)<tspan class="p">2</tspan> + (J<tspan class="p">⊥</tspan> − J<tspan class="p">∥</tspan>)<tspan class="p">2</tspan>/16}.</text>
</g>
<path d="M3550 228Q3558 228 3558 240L3558 326Q3558 338 3565 338Q3558 338 3558 350L3558 436Q3558 448 3550 448" stroke="#111" stroke-width="1.2" fill="none"/>
<text x="3597" y="347" font-size="13.5">(2)</text>

<!-- Page 5 headings -->
<text x="3782" y="120" font-size="14" font-weight="bold" textLength="155" lengthAdjust="spacingAndGlyphs">Supplemental Materials</text>
<text x="3782" y="144" font-size="14" font-weight="bold" textLength="216" lengthAdjust="spacingAndGlyphs">Crystal growth of Ba<tspan class="s">2</tspan>CoSi<tspan class="s">2</tspan>O<tspan class="s">6</tspan>Cl<tspan class="s">2</tspan></text>
<text x="3782" y="858" font-size="14" font-weight="bold" textLength="110" lengthAdjust="spacingAndGlyphs">Crystal structure</text>
<text x="4172" y="990" font-size="14" font-weight="bold" textLength="215" lengthAdjust="spacingAndGlyphs">Interdimer exchange interactions</text>

<!-- Photo -->
<defs><radialGradient id="vg" cx="50%" cy="50%" r="70%"><stop offset="0" stop-color="#d4eff8"/><stop offset=".7" stop-color="#bfe2ee"/><stop offset="1" stop-color="#6d8f96"/></radialGradient></defs>
<rect x="3869" y="569" width="194" height="178" fill="url(#vg)"/>
<path d="M3877 569V747M3902 569V747M3927 569V747M3952 569V747M3977 569V747M4002 569V747M4027 569V747M4052 569V747M3869 577H4063M3869 602H4063M3869 627H4063M3869 652H4063M3869 677H4063M3869 702H4063M3869 727H4063" stroke="#78c2e4" stroke-width="1.3" fill="none"/>
<ellipse cx="3965" cy="712" rx="36" ry="8" fill="#4a6f7a" opacity=".5"/>
<polygon points="3922,618 3940,612 3968,611 3985,608 3995,620 4003,640 4000,660 4004,680 3990,700 3960,703 3940,698 3925,690 3920,660" fill="#1c1ca0"/>
<polygon points="3935,622 3985,618 3992,690 3940,694" fill="#141478" opacity=".7"/>
<polygon points="3972,606 3982,600 3994,604 3990,614 3978,614" fill="#2a2ab8"/>
<path d="M3894 583H3920M3894 579V587M3920 579V587" stroke="#111" stroke-width="1"/>
<text x="3892" y="601" font-size="11">1 mm</text>

<!-- Table SI -->
<text x="4247" y="120" font-size="11.5" textLength="219" lengthAdjust="spacing"><tspan font-weight="bold">Table SI.</tspan>   Crystal data for Ba<tspan class="s">2</tspan>CoSi<tspan class="s">2</tspan>O<tspan class="s">6</tspan>Cl<tspan class="s">2</tspan>.</text>
<line x1="4237" y1="132" x2="4476" y2="132" stroke="#111"/><line x1="4237" y1="268" x2="4476" y2="268" stroke="#111"/>
<g font-size="11.5" text-anchor="middle">
<text x="4307" y="142">Chemical formula</text><text x="4307" y="157">Space group</text><text x="4307" y="172"><tspan class="it">a</tspan> (Å)</text><text x="4307" y="188"><tspan class="it">b</tspan> (Å)</text><text x="4307" y="203"><tspan class="it">c</tspan> (Å)</text><text x="4307" y="218"><tspan class="it">β</tspan> (deg)</text><text x="4307" y="234"><tspan class="it">V</tspan> (Å<tspan class="p">3</tspan>)</text><text x="4307" y="249" class="it">Z</text><text x="4307" y="264" class="it">R; wR</text>
<text x="4409" y="142">Ba<tspan class="s">2</tspan>CoSi<tspan class="s">2</tspan>O<tspan class="s">6</tspan>Cl<tspan class="s">2</tspan></text><text x="4409" y="157"><tspan class="it">P</tspan>2<tspan class="s">1</tspan>/<tspan class="it">c</tspan></text><text x="4409" y="172">7.1382(5)</text><text x="4409" y="188">7.1217(4)</text><text x="4409" y="203">18.6752(10)</text><text x="4409" y="218">91.417(2)</text><text x="4409" y="234">949.08(10)</text><text x="4409" y="249">4</text><text x="4409" y="264">0.0616; 0.1787</text>
</g>
<!-- Table SII -->
<text x="4172" y="337" font-size="11.2" textLength="368" lengthAdjust="spacing"><tspan font-weight="bold">Table SII.</tspan>   Fractional atomic coordinates (× 10<tspan class="p">4</tspan>) and equivalent isotropic</text>
<text x="4172" y="352" font-size="11.2" textLength="175" lengthAdjust="spacing">displacement parameters (Å<tspan class="p">2</tspan>× 10<tspan class="p">3</tspan>) for Ba<tspan class="s">2</tspan>CoSi<tspan class="s">2</tspan>O<tspan class="s">6</tspan>Cl<tspan class="s">2</tspan>.</text>
<line x1="4211" y1="361" x2="4502" y2="361" stroke="#111"/><line x1="4211" y1="376" x2="4502" y2="376" stroke="#111" stroke-width=".7"/><line x1="4211" y1="572" x2="4502" y2="572" stroke="#111"/>
<g font-size="11.2">
<g text-anchor="middle"><text x="4235" y="373">Atom</text><text x="4287" y="373" class="it">x</text><text x="4359" y="373" class="it">y</text><text x="4425" y="373" class="it">z</text><text x="4478" y="373"><tspan class="it">U</tspan><tspan class="s">eq</tspan></text>
<text x="4235" y="388">Ba(1)</text><text x="4235" y="403">Ba(2)</text><text x="4235" y="418">Co(1)</text><text x="4235" y="433.5">Si(1)</text><text x="4235" y="448.6">Si(2)</text><text x="4235" y="463.8">Cl(1)</text><text x="4235" y="478.9">Cl(2)</text><text x="4235" y="494">O(1)</text><text x="4235" y="509.2">O(2)</text><text x="4235" y="524.4">O(3)</text><text x="4235" y="539.5">O(4)</text><text x="4235" y="554.7">O(5)</text><text x="4235" y="569.8">O(6)</text></g>
<g text-anchor="end">
<text x="4319" y="388">− 5098(1)</text><text x="4319" y="403">221(1)</text><text x="4319" y="418">− 54(2)</text><text x="4319" y="433.5">− 2797(4)</text><text x="4319" y="448.6">− 2775(4)</text><text x="4319" y="463.8">− 4554(6)</text><text x="4319" y="478.9">624(5)</text><text x="4319" y="494">1934(12)</text><text x="4319" y="509.2">1870(14)</text><text x="4319" y="524.4">− 2068(13)</text><text x="4319" y="539.5">− 2034(12)</text><text x="4319" y="554.7">− 2320(30)</text><text x="4319" y="569.8">− 5017(14)</text>
<text x="4392" y="388">50(1)</text><text x="4392" y="403">− 5225(1)</text><text x="4392" y="418">− 115(2)</text><text x="4392" y="433.5">2771(4)</text><text x="4392" y="448.6">− 2780(4)</text><text x="4392" y="463.8">− 481(7)</text><text x="4392" y="478.9">593(5)</text><text x="4392" y="494">− 2081(12)</text><text x="4392" y="509.2">1823(13)</text><text x="4392" y="524.4">1851(13)</text><text x="4392" y="539.5">− 2117(12)</text><text x="4392" y="554.7">5007(13)</text><text x="4392" y="569.8">2370(30)</text>
<text x="4449" y="388">1423(1)</text><text x="4449" y="403">1353(1)</text><text x="4449" y="418">827(1)</text><text x="4449" y="433.5">− 7(2)</text><text x="4449" y="448.6">115(2)</text><text x="4449" y="463.8">3092(2)</text><text x="4449" y="478.9">2090(2)</text><text x="4449" y="494">746(4)</text><text x="4449" y="509.2">567(5)</text><text x="4449" y="524.4">733(5)</text><text x="4449" y="539.5">892(4)</text><text x="4449" y="554.7">45(6)</text><text x="4449" y="569.8">− 63(7)</text>
<text x="4494" y="388">21(1)</text><text x="4494" y="403">18(1)</text><text x="4494" y="418">16(1)</text><text x="4494" y="433.5">13(1)</text><text x="4494" y="448.6">13(1)</text><text x="4494" y="463.8">40(1)</text><text x="4494" y="478.9">29(1)</text><text x="4494" y="494">19(2)</text><text x="4494" y="509.2">25(2)</text><text x="4494" y="524.4">22(2)</text><text x="4494" y="539.5">20(2)</text><text x="4494" y="554.7">57(4)</text><text x="4494" y="569.8">69(5)</text>
</g></g>
</svg>

<!-- ================= PAGE 1 BODY ================= -->
<div class="c" style="left:74px;top:498px;width:369px">
<div class="i">Coupled spin dimer magnets provide a stage to embody the</div>
<div>quantum physics of interacting lattice bosons.<sup>1</sup> These mag-</div>
<div>nets often exhibit a gapped singlet ground state. In an ex-</div>
<div>ternal magnetic field exceeding the energy gap, the <i>S<sub>z</sub></i> = +1</div>
<div>component of the spin triplet is created on the dimer. The</div>
<div><i>S<sub>z</sub></i> = +1 component, called a magnon, acts as a boson on the</div>
<div>dimer lattice. The number of magnons can be tuned via the</div>
<div>external magnetic field corresponding to the chemical poten-</div>
<div>tial. Magnons move to neighboring dimers and interact with</div>
<div>one another owing to the transverse and longitudinal com-</div>
<div>ponents of the interdimer exchange interactions, respectively.</div>
<div>When the hopping term is dominant, magnons can undergo</div>
<div>Bose-Einstein condensation (BEC),<sup>2–12</sup> while when the hop-</div>
<div>ping term is suppressed so that the repulsive interaction due</div>
<div>to the antiferromagnetic interdimer interaction is dominant,</div>
<div>magnons can crystallize to form a regular array.<sup>13–20</sup> Coupled</div>
<div>spin dimer magnets also have the potential to realize an exotic</div>
<div class="e">supersolid phase in a magnetic field.<sup>21–24</sup></div>
<div class="i">Many spin dimer magnets have been reported to exhibit</div>
<div>the BEC of magnons,<sup>5–12</sup> while the experimental realization</div>
<div>of magnon crystallization has been limited. It is known that</div>
<div>an orthogonal spin dimer system, which was first discussed</div>
<div>theoretically by Shastry and Sutherland<sup>25</sup> and is realized in</div>
<div>SrCu<sub>2</sub>(BO<sub>3</sub>)<sub>2</sub>,<sup>13</sup> undergoes the successive crystallization of</div>
<div>magnons with fractional magnetization plateaus.<sup>14–20</sup> In this</div>
<div>letter, we report the crystal structure of the spin dimer mag-</div>
<div>net Ba<sub>2</sub>CoSi<sub>2</sub>O<sub>6</sub>Cl<sub>2</sub> and show that this compound exhibits</div>
<div>magnon crystallization in a high magnetic field owing to the</div>
<div>strong frustration of interdimer exchange interactions, which</div>
<div class="e">is different from the orthogonal dimer model.</div>
<div class="i">Ba<sub>2</sub>CoSi<sub>2</sub>O<sub>6</sub>Cl<sub>2</sub> single crystals were synthesized as a</div>
<div>by-product of the process used for the crystal growth of</div>
<div>Ba<sub>3</sub>CoSb<sub>2</sub>O<sub>9</sub>, which is an <i>S</i> = 1/2 triangular-lattice Heisen-</div>
<div>berg antiferromagnet.<sup>26–28</sup> Because the crystal structure of</div>
<div>Ba<sub>2</sub>CoSi<sub>2</sub>O<sub>6</sub>Cl<sub>2</sub> has not been reported to date, we performed</div>
<div>a structural analysis of it at room temperature. Details of the</div>
<div>crystal growth and the analysis of the crystal structure are de-</div>
<div class="e">scribed in the Supplemental Materials.<sup>29</sup></div>
</div>

<div class="c" style="left:464px;top:498px;width:370px">
<div class="i">The structure of Ba<sub>2</sub>CoSi<sub>2</sub>O<sub>6</sub>Cl<sub>2</sub> is monoclinic <i>P</i>2<sub>1</sub>/<i>c</i> with</div>
<div>cell dimensions of <i>a</i> = 7.1382 Å, <i>b</i> = 7.1217 Å, <i>c</i> = 18.6752 Å</div>
<div>and <i>β</i> = 91.417°. A perspective view of the crystal structure</div>
<div>is illustrated in Fig. 1(a). The crystal structure consists of</div>
<div>CoO<sub>4</sub>Cl pyramids with a Cl<sup>−</sup> ion at the apex. Magnetic Co<sup>2+</sup></div>
<div>is located approximately at the center of the base composed</div>
<div>of O<sup>2−</sup>, which is approximately parallel to the <i>ab</i> plane. Two</div>
<div>CoO<sub>4</sub>Cl pyramids form a chemical dimer with their bases fac-</div>
<div>ing each other. The CoO<sub>4</sub>Cl pyramids are linked via SiO<sub>4</sub></div>
<div>tetrahedra in the <i>ab</i> plane, as shown in Fig. S2(b) in the Sup-</div>
<div>plemental Materials. Note that the atomic linkage in the <i>ab</i></div>
<div>plane is similar to that of BaCuSi<sub>2</sub>O<sub>6</sub><sup>30–32</sup> (Fig. S2(c)), which</div>
<div>is a model substance undergoing magnon BEC.<sup>8</sup> Because</div>
<div>dispersion measurements<sup>32</sup> and extensive density-functional</div>
<div>calculations of the exchange interactions<sup>33</sup> revealed that the</div>
<div>interdimer exchange interactions are dominant in the dimer</div>
<div>layer parallel to the <i>ab</i> plane and negligible between dimer</div>
<div>layers, we consider that similar interdimer exchange inter-</div>
<div>actions are also realized in Ba<sub>2</sub>CoSi<sub>2</sub>O<sub>6</sub>Cl<sub>2</sub>. Thus, it is con-</div>
<div>sidered that Ba<sub>2</sub>CoSi<sub>2</sub>O<sub>6</sub>Cl<sub>2</sub> closely approximates a 2D cou-</div>
<div>pled spin dimer system with the exchange network shown in</div>
<div>Fig. 1(b). This exchange model is closely related to those dis-</div>
<div class="e">cussed theoretically.<sup>21–23, 34–36</sup></div>
<div class="i">The magnetic property of Co<sup>2+</sup> in an octahedral envi-</div>
<div>ronment is determined by the lowest orbital triplet <sup>4</sup><i>T</i><sub>1</sub>.<sup>37,38</sup></div>
<div>This orbital triplet splits into six Kramers doublets owing</div>
<div>to spin-orbit coupling and the low-symmetric crystal field.</div>
<div>When the temperature <i>T</i> is much lower than the magni-</div>
<div>tude of the spin-orbit coupling constant <i>λ</i> = −178 cm<sup>−1</sup>, i.e.,</div>
<div><i>T</i> ≪ |<i>λ</i>|/<i>k</i><sub>B</sub> ≃ 250 K, the magnetic property is determined by</div>
<div>the lowest Kramers doublet, and the effective magnetic mo-</div>
<div>ment of Co<sup>2+</sup> is represented by the fictitious spin-1/2 oper-</div>
<div>ator.<sup>37,38</sup> When the octahedral environment exhibits tetrago-</div>
<div>nal symmetry, the effective exchange interaction between fic-</div>
<div class="e">titious spins <b><i>s</i></b><sub><i>i</i></sub> is described by the spin-1/2 XXZ model<sup>38</sup></div>
<div class="e"></div><div class="e"></div><div class="e"></div>
<div>The crystal field in a pyramidal environment, as observed in</div>
</div>

<!-- ================= PAGE 2 ================= -->
<div class="cap" style="left:1001px;top:571px;width:369px">
<div><b>Fig. 1.</b>   (Color online) (a) Perspective view of the crystal structure of</div>
<div>Ba<sub>2</sub>CoSi<sub>2</sub>O<sub>6</sub>Cl<sub>2</sub>. Dotted lines denote the chemical unit cell. A magnetic Co<sup>2+</sup></div>
<div>ion is located approximately at the center of the base of the CoO<sub>4</sub>Cl pyra-</div>
<div>mid, where the pyramids are linked via orange-colored SiO<sub>4</sub> tetrahedra in</div>
<div>the <i>ab</i> plane. (b) Model of the exchange network for Ba<sub>2</sub>CoSi<sub>2</sub>O<sub>6</sub>Cl<sub>2</sub>. Thick</div>
<div>solid lines represent the intradimer exchange interaction <i>J</i>, and thin solid,</div>
<div>dashed and dotted lines represent the interdimer exchange interactions <i>J</i><sup>a</sup><sub>αβ</sub></div>
<div class="e">and <i>J</i><sup>b</sup><sub>αβ</sub> (<i>α</i>, <i>β</i> = 1, 2).</div>
</div>
<div class="c" style="left:1001px;top:756px;width:369px">
<div>Ba<sub>2</sub>CoSi<sub>2</sub>O<sub>6</sub>Cl<sub>2</sub>, can be regarded as that in an octahedral en-</div>
<div>vironment with a large tetragonal elongation. In such a case,</div>
<div><i>J</i><sup>∥</sup>/<i>J</i><sup>⊥</sup> is much smaller than unity, so that the effective ex-</div>
<div>change interaction becomes strongly XY like.<sup>38</sup> The <i>g</i>-factors</div>
<div>for magnetic fields parallel and perpendicular to the elongated</div>
<div>axis of the octahedron are given as <i>g</i><sup>∥</sup> = 4 − 5 and <i>g</i><sup>⊥</sup> ≃ 2, re-</div>
<div>spectively.<sup>37</sup> Because the inclination of the magnetic princi-</div>
<div>pal <i>z</i> axis from the crystallographic <i>c</i>* axis is approximately</div>
<div>10° in Ba<sub>2</sub>CoSi<sub>2</sub>O<sub>6</sub>Cl<sub>2</sub>, we assume that the condition of <i>H</i> ∥ <i>c</i>*</div>
<div>corresponds to that of <i>H</i> ∥ <i>z</i>. The energy levels of the isolated</div>
<div>dimer are given by −(2<i>J</i><sup>⊥</sup> + <i>J</i><sup>∥</sup>)/4, <i>J</i><sup>∥</sup>/4 and (2<i>J</i><sup>⊥</sup> − <i>J</i><sup>∥</sup>)/4, and</div>
<div>the corresponding eigenstates are |0, 0⟩, |1, ±1⟩ and |1, 0⟩, re-</div>
<div class="e">spectively.</div>
<div class="i">The magnetic susceptibility of Ba<sub>2</sub>CoSi<sub>2</sub>O<sub>6</sub>Cl<sub>2</sub> single crys-</div>
<div>tal was measured in the temperature range of 1.8 − 300 K us-</div>
<div>ing a SQUID magnetometer (Quantum Design MPMS XL).</div>
<div>The specific heat of Ba<sub>2</sub>CoSi<sub>2</sub>O<sub>6</sub>Cl<sub>2</sub> was measured in the tem-</div>
<div>perature range of 0.4 − 300 K using a physical property mea-</div>
<div>surement system (Quantum Design PPMS) by the relaxation</div>
<div>method. High-field magnetization measurement in a magnetic</div>
<div>field of up to 70 T was performed at 4.2 and 1.3 K using an in-</div>
<div>duction method with a multilayer pulse magnet at the Institute</div>
<div>for Solid State Physics, University of Tokyo. High-frequency</div>
<div>ESR measurements in pulsed magnetic fields of up to 30 T</div>
<div>with fixed frequencies ranging from 190 to 450 GHz were</div>
</div>
<div class="cap" style="left:1391px;top:367px;width:370px">
<div><b>Fig. 2.</b>   (Color online) Magnetic susceptibilities in Ba<sub>2</sub>CoSi<sub>2</sub>O<sub>6</sub>Cl<sub>2</sub> mea-</div>
<div>sured at <i>H</i> = 0.1 T for <i>H</i> ∥ <i>c</i>* and <i>H</i> ∥ <i>ab</i>. Red and blue symbols are raw data</div>
<div class="e">and the data corrected for the Curie term.</div>
</div>
<div class="c" style="left:1391px;top:469px;width:370px">
<div>performed at 4.2 K at the Institute for Materials Research,</div>
<div>Tohoku University. Ba<sub>2</sub>CoSi<sub>2</sub>O<sub>6</sub>Cl<sub>2</sub> crystal is easily cleaved</div>
<div>parallel to the <i>ab</i> plane. Magnetic fields were applied parallel</div>
<div>to the <i>ab</i> plane and the <i>c</i>* axis, which is perpendicular to the</div>
<div class="e"><i>ab</i> plane.</div>
<div class="i">Figure 2 shows the magnetic susceptibilities in</div>
<div>Ba<sub>2</sub>CoSi<sub>2</sub>O<sub>6</sub>Cl<sub>2</sub> measured for magnetic fields <i>H</i> parallel</div>
<div>to the <i>c</i>* axis and <i>ab</i> plane. The magnetic susceptibility is</div>
<div>isotropic in the <i>ab</i> plane. This is because there are domains</div>
<div>in which the <i>a</i> and <i>b</i> directions are interchanged, which was</div>
<div>observed by the present X-ray diffraction measurement. The</div>
<div>Curie term below 10 K is ascribed to unpaired spins produced</div>
<div>by lattice defects because the magnitude of the Curie term</div>
<div>depends strongly on the field direction. The blue symbols in</div>
<div>Fig. 2 show the magnetic susceptibilities corrected for the</div>
<div>Curie term. For both field directions, the magnetic suscepti-</div>
<div>bilities exhibit a rounded maxima at 50 − 75 K and decrease</div>
<div>with decreasing temperature. No anomaly indicative of</div>
<div>magnetic ordering was observed. The magnetic susceptibility</div>
<div>for <i>H</i> ∥ <i>c</i>* becomes almost zero at <i>T</i> = 0, while for <i>H</i> ∥ <i>ab</i>, the</div>
<div>magnetic susceptibility has a finite value even at <i>T</i> = 0, which</div>
<div>is attributed to the large Van Vleck paramagnetism of Co<sup>2+</sup></div>
<div>in an octahedral (pyramidal) environment. The Van Vleck</div>
<div>paramagnetic susceptibility of <i>χ</i><sub>VV</sub> = 1.01 × 10<sup>−2</sup> emu/mol for</div>
<div><i>H</i> ∥ <i>ab</i> coincides with that obtained from the magnetization</div>
<div>curve shown below. The magnetic susceptibility indicates</div>
<div>a gapped singlet ground state. It is natural to assume that</div>
<div>two Co<sup>2+</sup> spins located on the bases of neighboring CoO<sub>4</sub>Cl</div>
<div>pyramids are coupled to form an antiferromagnetic dimer,</div>
<div class="e">which gives rise to the singlet ground state.</div>
<div class="i">Figure 3(a) shows the raw magnetization curves for</div>
<div>Ba<sub>2</sub>CoSi<sub>2</sub>O<sub>6</sub>Cl<sub>2</sub> single crystal measured at 1.3 K for <i>H</i> ∥ <i>c</i>*</div>
<div>and <i>H</i> ∥ <i>ab</i>. The entire magnetization process was observed</div>
<div>up to a magnetic field of 70 T. The saturation of the Co<sup>2+</sup></div>
<div>spin occurs at <i>H</i><sub>s</sub> ≃ 57 and 41 T for <i>H</i> ∥ <i>c</i>* and <i>H</i> ∥ <i>ab</i>, re-</div>
<div>spectively. The absolute value of the magnetization for <i>H</i> ∥ <i>ab</i></div>
<div>was calibrated with the <i>g</i>-factor determined as <i>g<sub>ab</sub></i> = 3.86 from</div>
<div>the present electron spin resonance (ESR) measurements per-</div>
<div>formed at 4.2 K, as shown below. The <i>g</i> factor for <i>H</i> ∥ <i>c</i>*</div>
<div>was evaluated as <i>g<sub>c*</sub></i> = 2.0 ± 0.1 from the average of the mag-</div>
<div>netization data. The highly anisotropic g factors of Co<sup>2+</sup></div>
</div>

<!-- ================= PAGE 3 ================= -->
<div class="cap" style="left:1928px;top:665px;width:369px">
<div><b>Fig. 3.</b>   (Color online) (a) Raw magnetization curves measured at 1.3 K for</div>
<div><i>H</i> ∥ <i>c</i>* and <i>H</i> ∥ <i>ab</i> using a piece of single crystal. Arrows indicate the route</div>
<div>of the magnetization process upon sweeping the field up and down. (b) Mag-</div>
<div>netization curves corrected for Van Vleck paramagnetism. Dashed lines are</div>
<div>theoretical magnetization curves calculated using eq. (2) with the parameters</div>
<div class="e">given in the text.</div>
</div>
<div class="c" style="left:1928px;top:813px;width:369px">
<div>arise from the pyramidal environment, as previously men-</div>
<div class="e">tioned.<sup>37,38</sup></div>
<div class="i">The same magnetization slopes below 30 T and above</div>
<div><i>H</i><sub>s</sub> for <i>H</i> ∥ <i>ab</i> arise from the large temperature-independent</div>
<div>Van Vleck paramagnetism of Co<sup>2+</sup> in the octahedral</div>
<div>environment.<sup>38</sup> From the magnetization slope, the Van</div>
<div>Vleck paramagnetic susceptibility for <i>H</i> ∥ <i>ab</i> was evalu-</div>
<div>ated as <i>χ</i><sub>VV</sub> = 9.94 × 10<sup>−3</sup> emu/mol, which coincides with</div>
<div><i>χ</i><sub>VV</sub> = 1.01 × 10<sup>−2</sup> emu/mol obtained from the magnetic sus-</div>
<div>ceptibility. For both field directions, stepwise magnetization</div>
<div>processes with a plateau at half of the saturation magnetiza-</div>
<div>tion <i>M</i><sub>s</sub> are observed. The transition fields are <i>H</i><sub>c</sub><sup>∥</sup> = 46.8 T and</div>
<div><i>H</i><sub>s</sub><sup>∥</sup> = 56.7 T for <i>H</i> ∥ <i>c</i>* and <i>H</i><sub>c</sub><sup>⊥</sup> = 32.0 T and <i>H</i><sub>s</sub><sup>⊥</sup> = 41.0 T for</div>
<div><i>H</i> ∥ <i>ab</i>. Note that the magnetization process shows hysteresis,</div>
<div>the route of which is indicated by arrows. The magnetization</div>
<div>curves measured upon sweeping the field up and down are</div>
<div class="e">symmetric with respect the midpoint of the <i>M</i><sub>s</sub>/2 plateau.</div>
<div class="i">Figure 3(b) shows the magnetization curves corrected for</div>
<div>Van Vleck paramagnetism. It can be clearly seen that the mag-</div>
<div>netization processes for both field directions are stepwise with</div>
<div>a plateau at <i>M</i><sub>s</sub>/2. The singlet ground state is stabilized in a</div>
</div>
<div class="cap" style="left:2318px;top:669px;width:372px">
<div><b>Fig. 4.</b>   (Color online) (a) ESR absorption spectra in Ba<sub>2</sub>CoSi<sub>2</sub>O<sub>6</sub>Cl<sub>2</sub> mea-</div>
<div>sured at <i>T</i> = 4.2 K for <i>H</i> ∥ <i>ab</i>. Arrows are resonance fields for singlet-triplet</div>
<div>transitions. (b) Frequency vs field diagram of ESR mode measured for <i>H</i> ∥ <i>ab</i>.</div>
<div class="e">The solid line is a linear fit for the singlet-triplet transitions with <i>g<sub>ab</sub></i> = 3.86.</div>
</div>
<div class="c" style="left:2318px;top:787px;width:370px">
<div>wide field range below <i>H</i><sub>c</sub>. The field ranges of the magnetiza-</div>
<div class="e">tion slopes below and above <i>M</i><sub>s</sub>/2 plateau are negligible.</div>
<div class="i">We performed ESR measurements on Ba<sub>2</sub>CoSi<sub>2</sub>O<sub>6</sub>Cl<sub>2</sub> at</div>
<div>low temperatures to obtain the <i>g</i>-factor. Figure 4(a) shows</div>
<div>ESR absorption spectra for <i>H</i> ∥ <i>ab</i>. We were not able to ob-</div>
<div>serve electron paramagnetic resonance (EPR) because of the</div>
<div>large magnetic anisotropy, but we observed singlet-triplet</div>
<div>transitions at the magnetic fields indicated by arrows. The res-</div>
<div>onance data are summarized in the frequency vs field diagram</div>
<div>shown in Fig. 4(b). The frequency of the singlet-triplet tran-</div>
<div>sition decreases linearly with increasing magnetic field and</div>
<div>softens at the critical field <i>H</i><sub>c</sub><sup>⊥</sup>. Assuming that the resonance</div>
<div>condition of the singlet-triplet transition near <i>H</i><sub>c</sub><sup>⊥</sup> is described</div>
<div>as <i>ħω</i> = <i>g<sub>ab</sub>μ</i><sub>B</sub>(<i>H</i><sub>c</sub><sup>⊥</sup> − <i>H</i>), we obtain the <i>g</i>-factor for <i>H</i> ∥ <i>ab</i> as</div>
<div><i>g<sub>ab</sub></i> = 3.86. We were not able to observe the singlet-triplet tran-</div>
<div>sition for <i>H</i> ∥ <i>c</i>* because the highest magnetic field for which</div>
<div class="e">ESR measurement was possible was limited to 30 T.</div>
<div class="i">There are two possibilities leading to this stepwise mag-</div>
<div>netization process. The first possibility is that there are two</div>
<div>types of almost isolated dimers with equal populations. Mag-</div>
<div>netization plateaus owing to this mechanism are realized in</div>
<div>NH<sub>4</sub>CuCl<sub>3</sub>.<sup>39</sup> In the room-temperature structure, all the Co<sup>2+</sup></div>
<div>sites are equivalent. Thus, if there are two types of magnetic</div>
</div>

<!-- ================= PAGE 4 ================= -->
<div class="cap" style="left:2855px;top:677px;width:369px">
<div><b>Fig. 5.</b>   (Color online) (a) Specific heat divided by the temperature mea-</div>
<div>sured at zero magnetic field. (b) Low-temperature specific heat. The solid</div>
<div>line is a fit based on the isolated dimer model with <i>J</i><sup>⊥</sup>/<i>k</i><sub>B</sub> = 105 K and</div>
<div class="e"><i>J</i><sup>∥</sup>/<i>J</i><sup>⊥</sup> = 0.149 (fixed).</div>
</div>
<div class="c" style="left:2855px;top:794px;width:369px">
<div>dimers, a structural phase transition should occur below room</div>
<div>temperature. Figure 5(a) shows the specific heat divided by</div>
<div>the temperature measured at zero magnetic field below 300</div>
<div>K. No anomaly indicative of a phase transition was observed</div>
<div>down to 0.5 K. In BaCuSi<sub>2</sub>O<sub>6</sub>, which has a similar crystal</div>
<div>structure to that of Ba<sub>2</sub>CoSi<sub>2</sub>O<sub>6</sub>Cl<sub>2</sub>, the interdimer exchange</div>
<div>interaction gives rise to a wide magnetization slope with a</div>
<div>field range of 26 T.<sup>8</sup> Thus, the magnitude of the interdimer</div>
<div>exchange interaction in Ba<sub>2</sub>CoSi<sub>2</sub>O<sub>6</sub>Cl<sub>2</sub> is expected to be of</div>
<div>the same order as that in BaCuSi<sub>2</sub>O<sub>6</sub>. From these facts, the</div>
<div class="e">first possibility is ruled out.</div>
<div class="i">The second possibility is that the interdimer exchange</div>
<div>interactions are perfectly frustrated, which corresponds to</div>
<div>the case <i>J</i><sub>11</sub> + <i>J</i><sub>22</sub> = <i>J</i><sub>12</sub> + <i>J</i><sub>21</sub> within the exchange network</div>
<div>shown in Fig. 1(b). In this case, the magnon cannot move</div>
<div>onto the neighboring dimer, because the hopping amplitude</div>
<div>is proportional to <i>J</i><sub>11</sub> + <i>J</i><sub>22</sub> − <i>J</i><sub>12</sub> − <i>J</i><sub>21</sub>. Hence, the ground</div>
<div>state is determined by the balance between the Zeeman en-</div>
<div>ergy and the repulsive interaction between magnons that is</div>
<div>given by the total of the interdimer exchange interactions,</div>
<div><i>J</i><sub>11</sub> + <i>J</i><sub>22</sub> + <i>J</i><sub>12</sub> + <i>J</i><sub>21</sub>. Consequently, a stepwise magnetiza-</div>
<div>tion process with the <i>M</i><sub>s</sub>/2 plateau occurs, as observed in</div>
<div>Ba<sub>2</sub>CoSi<sub>2</sub>O<sub>6</sub>Cl<sub>2</sub>. If the frustration between interdimer interac-</div>
</div>
<div class="c" style="left:3245px;top:106px;width:370px">
<div>tions is imperfect, i. e., <i>J</i><sub>11</sub> + <i>J</i><sub>22</sub> ≠ <i>J</i><sub>12</sub> + <i>J</i><sub>21</sub>, then the mag-</div>
<div>netization slopes appear between <i>M</i> = 0 and the <i>M</i><sub>s</sub>/2 plateaus</div>
<div class="e">and between the <i>M</i> = <i>M</i><sub>s</sub>/2 plateau and the saturation.<sup>40</sup></div>
<div class="i">When the interdimer exchange interactions are perfectly</div>
<div>frustrated, the critical field <i>H</i><sub>c</sub> and the saturation field <i>H</i><sub>s</sub> are</div>
<div class="e">given as</div>
</div>
<div class="c" style="left:3245px;top:458px;width:370px">
<div>The dashed lines in Fig. 3(b) are magnetization curves cal-</div>
<div>culated using eq. (2) with <i>J</i><sup>⊥</sup>/<i>k</i><sub>B</sub> = 110 K, <i>J</i><sup>∥</sup>/<i>J</i><sup>⊥</sup> = 0.149,</div>
<div><i>α</i><sup>⊥</sup>/<i>k</i><sub>B</sub> = 23.7 K, <i>α</i><sup>∥</sup>/<i>k</i><sub>B</sub> = 13.3 K, <i>g<sub>ab</sub></i> = 3.86 and <i>g<sub>c*</sub></i> = 2.0. The</div>
<div>field range of the 1/2-plateau is given by <i>α</i><sup>∥,⊥</sup>/<i>gμ</i><sub>B</sub>. Note</div>
<div>that the anisotropy of the interdimer exchange interaction,</div>
<div><i>α</i><sup>∥</sup>/<i>α</i><sup>⊥</sup> = 0.56, is different from that of the intradimer exchange</div>
<div>interaction, <i>J</i><sup>∥</sup>/<i>J</i><sup>⊥</sup> = 0.15. In the first approximation, these</div>
<div>anisotropies should be the same. We discuss the mechanism</div>
<div class="e">leading to the difference in the Supplemental Materials.<sup>29</sup></div>
<div class="i">When the hopping of the magnon is absent, the specific</div>
<div>heat at low temperatures, where the interaction between ther-</div>
<div>mally excited magnons is negligible, is approximately ex-</div>
<div>pressed by that for an isolated dimer. Thus, we describe the</div>
<div>low-temperature specific heat as <i>C</i> = <i>C</i><sub>mag</sub> + <i>C</i><sub>latt</sub>, where <i>C</i><sub>mag</sub></div>
<div>is the specific heat of the isolated dimer with energy levels of</div>
<div>−(2<i>J</i><sup>⊥</sup> + <i>J</i><sup>∥</sup>)/4, <i>J</i><sup>∥</sup>/4 and (2<i>J</i><sup>⊥</sup> − <i>J</i><sup>∥</sup>)/4, and <i>C</i><sub>latt</sub> is the lattice</div>
<div>contribution given by <i>C</i><sub>latt</sub> = <i>a</i><sub>1</sub><i>T</i><sup>3</sup> + <i>a</i><sub>2</sub><i>T</i><sup>5</sup>. The solid line in</div>
<div>Fig. 5(b) is the fit based on this model with <i>J</i><sup>⊥</sup>/<i>k</i><sub>B</sub> = 105 K and</div>
<div><i>C</i><sub>latt</sub> = 0.00213 <i>T</i><sup>3</sup> − (1.14×10<sup>−6</sup>) <i>T</i><sup>5</sup> J/mol K, where <i>J</i><sup>∥</sup>/<i>J</i><sup>⊥</sup> is</div>
<div>fixed to be 0.149. The magnitude of <i>J</i><sup>⊥</sup>/<i>k</i><sub>B</sub> obtained by this</div>
<div>analysis is consistent with <i>J</i><sup>⊥</sup>/<i>k</i><sub>B</sub> = 110 K obtained from the</div>
<div class="e">analysis of the magnetization process.</div>
<div class="i">In conclusion, we have presented the results of structural</div>
<div>analysis and magnetization, ESR and thermodynamic mea-</div>
<div>surements on Ba<sub>2</sub>CoSi<sub>2</sub>O<sub>6</sub>Cl<sub>2</sub> synthesized in this work. This</div>
<div>compound should be described as a 2D coupled spin dimer</div>
<div>system with XY-like exchange interactions. Ba<sub>2</sub>CoSi<sub>2</sub>O<sub>6</sub>Cl<sub>2</sub></div>
<div>exhibits a stepwise magnetization process with an <i>M</i><sub>s</sub>/2</div>
<div>plateau, irrespective of the magnetic field directions. This</div>
<div>finding, together with the absence of a structural phase transi-</div>
<div>tion, shows that the frustration for the interdimer exchange in-</div>
<div>teractions is almost perfect. The <i>M</i><sub>s</sub>/2 plateau state is almost</div>
<div>exactly given by the alternate product of singlet and triplet</div>
<div class="e">dimers, which corresponds to a Wigner crystal of magnons.</div>
<div class="i">We thank M. Nakamura, Y. Murakami and S. Nishimoto for</div>
<div>useful discussions and comments. This work was supported</div>
<div>by a Grant-in-Aid for Scientific Research (A) from Japan So-</div>
<div>ciety for the Promotion of Science, and by the Global COE</div>
<div>Program “Nanoscience and Quantum Physics” at Tokyo Tech.</div>
<div>funded by the Ministry of Education, Culture, Sports, Science</div>
<div class="e">and Technology of Japan.</div>
</div>

<!-- ================= PAGE 5 ================= -->
<div class="c" style="left:3782px;top:153px;width:369px">
<div class="i">Ba<sub>2</sub>CoSi<sub>2</sub>O<sub>6</sub>Cl<sub>2</sub> single crystals were grown as a by-</div>
<div>product of the process used for the single-crystal growth</div>
<div>of Ba<sub>3</sub>CoSb<sub>2</sub>O<sub>9</sub>, which is well described as an <i>S</i> = 1/2</div>
<div>triangular-lattice Heisenberg antiferromagnet.<sup>26</sup> We used a</div>
<div>flux method with BaCl<sub>2</sub> as the flux using a quartz tube as</div>
<div>a crucible. Using the solid-state reaction, we first prepared</div>
<div>Ba<sub>3</sub>CoSb<sub>2</sub>O<sub>9</sub> powder. A mixture of Ba<sub>3</sub>CoSb<sub>2</sub>O<sub>9</sub> and BaCl<sub>2</sub></div>
<div>in a molar ratio of 1 : 10 was sealed in an evacuated quartz</div>
<div>tube. The temperature at the center of the furnace was low-</div>
<div>ered from 1100 to 800°C over 10 days then rapidly lowered to</div>
<div>room temperature. Bluish purple plate-shaped single crystals</div>
<div>with a typical size of 3 × 3 × 0.5 mm<sup>3</sup> were obtained (Fig. S6).</div>
<div>We first considered that the crystals obtained would be the</div>
<div>dimer compound Ba<sub>2</sub>CoCl<sub>6</sub> .<sup>?,?</sup> However, from X-ray diffrac-</div>
<div>tion and the X-ray fluorescence analysis, the crystals were</div>
<div>found to be Ba<sub>2</sub>CoSi<sub>2</sub>O<sub>6</sub>Cl<sub>2</sub>. The silicon was provided from</div>
<div>the quartz tube. The wide plane of the crystals was found to be</div>
<div>the crystallographic <i>ab</i> plane by X-ray diffraction. It was also</div>
<div>found that much larger Ba<sub>2</sub>CoSi<sub>2</sub>O<sub>6</sub>Cl<sub>2</sub> single crystals can be</div>
<div>grown from a mixture of Ba<sub>3</sub>CoNb<sub>2</sub>O<sub>9</sub> and BaCl<sub>2</sub> in a molar</div>
<div class="e">ratio of 1 : 10 using a quartz tube.</div>
</div>
<div class="cap" style="left:3782px;top:771px;width:369px">
<div><b>Fig. S6.</b>   Photograph of Ba<sub>2</sub>CoSi<sub>2</sub>O<sub>6</sub>Cl<sub>2</sub> single crystal. The wide plane is</div>
<div class="e">the crystallographic <i>ab</i> plane.</div>
</div>
<div class="c" style="left:3782px;top:867px;width:369px">
<div class="i">We performed a structural analysis of Ba<sub>2</sub>CoSi<sub>2</sub>O<sub>6</sub>Cl<sub>2</sub> at</div>
<div>room temperature using a RIGAKU R-AXIS RAPID three-</div>
<div>circle diffractometer equipped with an imaging plate area</div>
<div>detector. Monochromatic Mo-K<i>α</i> radiation (<i>λ</i> = 0.71075 Å)</div>
<div>was used as the X-ray source. Data integration and global-</div>
<div>cell refinements were performed using data in the range of</div>
<div>3.06° &lt; <i>θ</i> &lt; 27.44°, and absorption correction based on face</div>
<div>indexing and integration on a Gaussian grid was also per-</div>
<div>formed. The total number of reflections observed was 9097,</div>
<div>among which 2163 reflections were found to be independent</div>
<div>and 2055 reflections were determined to satisfy the criterion</div>
<div><i>I</i> &gt; 2<i>σ</i>(<i>I</i>). Structural parameters were refined by the full-</div>
<div>matrix least-squares method using SHELXL-97 software. The</div>
<div>final <i>R</i> indices obtained were <i>R</i> = 0.0616 and <i>wR</i> = 0.1787.</div>
<div>The crystal data are listed in Table SI. The chemical formula</div>
<div>was found to be Ba<sub>2</sub>CoSi<sub>2</sub>O<sub>6</sub>Cl<sub>2</sub> from the results of structural</div>
<div class="e">and chemical analyses.</div>
<div class="i">The structure of Ba<sub>2</sub>CoSi<sub>2</sub>O<sub>6</sub>Cl<sub>2</sub> is monoclinic <i>P</i>2<sub>1</sub>/<i>c</i> with</div>
<div>cell dimensions of <i>a</i> = 7.1382 Å, <i>b</i> = 7.1217 Å, <i>c</i> = 18.6752 Å,</div>
</div>
<div class="c" style="left:4172px;top:639px;width:370px">
<div><i>β</i> = 91.417° and <i>Z</i>=4. Its atomic coordinates and equivalent</div>
<div>isotropic displacement parameters are shown in Table SII.</div>
<div>A perspective view of the crystal structure and that viewed</div>
<div>along the <i>c</i> axis are illustrated in Figs. S7(a) and (b), respec-</div>
<div>tively. The crystal structure consists of CoO<sub>4</sub>Cl pyramids,</div>
<div>in which Cl<sup>−</sup> occupies the apex and magnetic Co<sup>2+</sup> is</div>
<div>located approximately at the center of the base. Two CoO<sub>4</sub>Cl</div>
<div>pyramids form a chemical dimer with their bases facing each</div>
<div>other. The CoO<sub>4</sub>Cl pyramids are linked via SiO<sub>4</sub> tetrahedra</div>
<div>in the <i>ab</i> plane, as shown in Fig. S7(b). The atomic linkage</div>
<div>in the <i>ab</i> plane is similar to that of BaCuSi<sub>2</sub>O<sub>6</sub> <sup>31</sup> shown in</div>
<div>Fig. S7(c). In BaCuSi<sub>2</sub>O<sub>6</sub>, CuO<sub>4</sub> plaquettes are linked via</div>
<div>SiO<sub>4</sub> tetrahedra in the <i>ab</i> plane and two neighboring Cu<sup>2+</sup></div>
<div>ions in the <i>c</i> direction form a magnetic dimer .<sup>32</sup> Two neigh-</div>
<div>boring CuO<sub>4</sub> plaquettes in BaCuSi<sub>2</sub>O<sub>6</sub> are rotated in opposite</div>
<div>directions around the <i>c</i> direction, while in Ba<sub>2</sub>CoSi<sub>2</sub>O<sub>6</sub>Cl<sub>2</sub>,</div>
<div class="e">such rotation of the CoO<sub>4</sub>Cl pyramids is absent.</div>
</div>
<div class="c" style="left:4172px;top:1001px;width:370px">
<div class="i">It is natural to assume that two neighboring Co<sup>2+</sup> ions along</div>
<div>the <i>c</i> direction form a magnetic dimer. Figure S8 shows the</div>
<div>atomic configuration between neighboring dimers along the <i>a</i></div>
<div>and <i>b</i> directions and a model of the interdimer exchange inter-</div>
<div>action in the <i>ab</i> plane. The interdimer exchange interactions</div>
<div><i>J</i><sub>11</sub><sup>a</sup> (<i>J</i><sub>11</sub><sup>b</sup>) and <i>J</i><sub>22</sub><sup>a</sup> (<i>J</i><sub>22</sub><sup>b</sup>) that connects two Co<sup>2+</sup> spins on the top</div>
<div>and bottom, respectively, are equivalent because the midpoint</div>
<div>between the neighboring Co<sup>2+</sup> dimers is the crystallographic</div>
<div>inversion center. Thus, the conditions <i>J</i><sub>11</sub><sup>a</sup> = <i>J</i><sub>22</sub><sup>a</sup> and <i>J</i><sub>11</sub><sup>b</sup> = <i>J</i><sub>22</sub><sup>b</sup></div>
<div class="e">are satisfied in Ba<sub>2</sub>CoSi<sub>2</sub>O<sub>6</sub>Cl<sub>2</sub>.</div>
<div class="i">The contribution of the paths Co−O2−Si2−O6−Si1</div>
</div>
</body></html>
